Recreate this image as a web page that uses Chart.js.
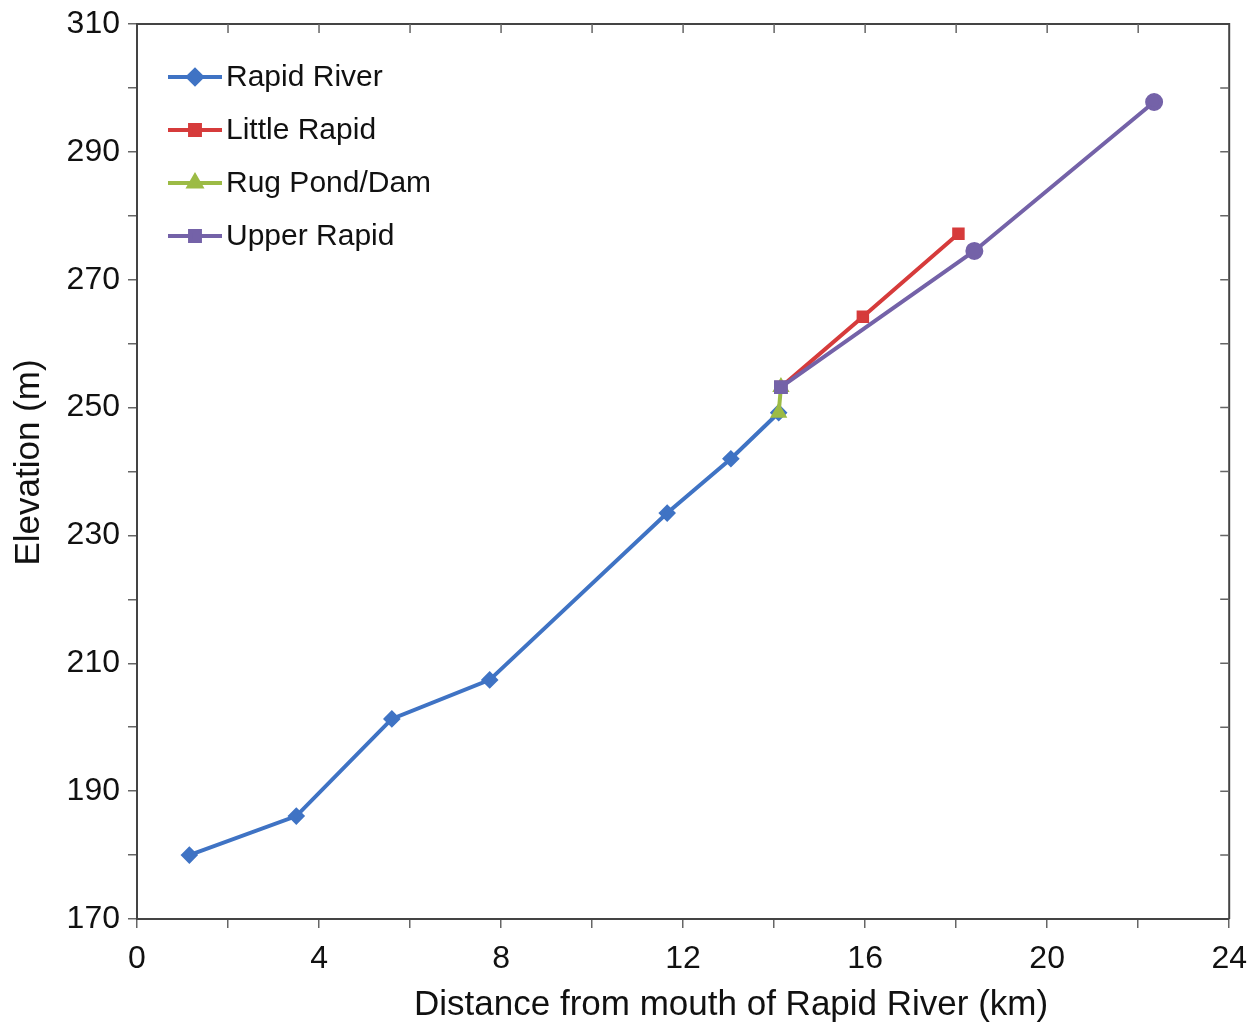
<!DOCTYPE html>
<html>
<head>
<meta charset="utf-8">
<title>Rapid River profile</title>
<script src="https://cdn.jsdelivr.net/npm/chart.js@4/dist/chart.umd.min.js"></script>
<style>
  html, body { margin: 0; padding: 0; background: #fff; }
  #wrap { width: 1259px; height: 1029px; position: relative; }
</style>
</head>
<body>
<div id="wrap"><canvas id="profile"></canvas></div>
<script>
// distance from mouth (km) and elevation (m)
const rapidRiverX = [1.15, 3.5, 5.6, 7.75, 11.65, 13.05, 14.1];
const rapidRiverY = [180, 186.1, 201.3, 207.4, 233.5, 242.0, 249.2];

const littleRapidX = [14.15, 15.95, 18.05];
const littleRapidY = [253.2, 264.2, 277.2];

const rugPondX = [14.1, 14.15];
const rugPondY = [249.2, 253.2];

const upperRapidX = [14.15, 18.4, 22.35];
const upperRapidY = [253.2, 274.5, 297.8];

const xTicks = [0, 4, 8, 12, 16, 20, 24];
const yTicks = [170, 190, 210, 230, 250, 270, 290, 310];

const xTitle = 'Distance from mouth of Rapid River (km)';
const yTitle = 'Elevation (m)';

const FONT = '"Liberation Sans", Arial, sans-serif';

function toPoints(xs, ys) {
    return xs.map((x, i) => ({ x: x, y: ys[i] }));
}

// frame on top/right with inward ticks, like the original figure
const framePlugin = {
    id: 'frame',
    beforeDatasetsDraw(chart) {
        const ctx = chart.ctx;
        const a = chart.chartArea;
        const xs = chart.scales.x;
        const ys = chart.scales.y;
        ctx.save();
        ctx.strokeStyle = '#444';
        ctx.lineWidth = 2;
        ctx.beginPath();
        ctx.moveTo(a.left, a.top);
        ctx.lineTo(a.right, a.top);
        ctx.lineTo(a.right, a.bottom);
        ctx.stroke();
        ctx.strokeStyle = '#666';
        ctx.lineWidth = 1.5;
        ctx.beginPath();
        for (let v = 2; v < 24; v += 2) {
            const px = xs.getPixelForValue(v);
            ctx.moveTo(px, a.top);
            ctx.lineTo(px, a.top + 9);
        }
        for (let v = 180; v < 310; v += 10) {
            const py = ys.getPixelForValue(v);
            ctx.moveTo(a.right, py);
            ctx.lineTo(a.right - 9, py);
        }
        ctx.stroke();
        ctx.restore();
    }
};

// axis titles: the original sits them a bit off-centre
const titlesPlugin = {
    id: 'titles',
    afterDraw(chart) {
        const ctx = chart.ctx;
        const a = chart.chartArea;
        ctx.save();
        ctx.fillStyle = '#111';
        ctx.font = '35px ' + FONT;
        ctx.textAlign = 'center';
        ctx.textBaseline = 'middle';
        ctx.fillText(xTitle, (a.left + a.right) / 2 + 48, 1005);
        ctx.translate(29, (a.top + a.bottom) / 2 - 9);
        ctx.rotate(-Math.PI / 2);
        ctx.fillText(yTitle, 0, 0);
        ctx.restore();
    }
};

// legend drawn inside the plot, line + marker like the original
const innerLegend = {
    id: 'innerLegend',
    afterDraw(chart) {
        const ctx = chart.ctx;
        const a = chart.chartArea;
        ctx.save();
        chart.data.datasets.forEach((ds, i) => {
            const y = a.top + 53 + i * 53;
            const x0 = a.left + 31;
            const x1 = x0 + 54;
            ctx.strokeStyle = ds.borderColor;
            ctx.lineWidth = 4;
            ctx.beginPath();
            ctx.moveTo(x0, y);
            ctx.lineTo(x1, y);
            ctx.stroke();
            ctx.fillStyle = ds.borderColor;
            Chart.helpers.drawPoint(ctx, {
                pointStyle: ds.legendStyle,
                radius: 7,
                rotation: 0,
                borderWidth: 1
            }, (x0 + x1) / 2, y);
            ctx.fillStyle = '#111';
            ctx.font = '30px ' + FONT;
            ctx.textAlign = 'left';
            ctx.textBaseline = 'middle';
            ctx.fillText(ds.label, x1 + 4, y + 1);
        });
        ctx.restore();
    }
};

const blue = '#3f73c4';
const red = '#d63b3b';
const green = '#9cbb45';
const purple = '#7462a8';

new Chart(document.getElementById('profile'), {
    type: 'line',
    data: {
        datasets: [
            {
                label: 'Rapid River',
                data: toPoints(rapidRiverX, rapidRiverY),
                borderColor: blue,
                backgroundColor: blue,
                borderWidth: 4,
                pointStyle: 'rectRot',
                pointRadius: 6,
                legendStyle: 'rectRot',
                order: 3
            },
            {
                label: 'Little Rapid',
                data: toPoints(littleRapidX, littleRapidY),
                borderColor: red,
                backgroundColor: red,
                borderWidth: 4,
                pointStyle: 'rect',
                pointRadius: 6,
                legendStyle: 'rect',
                order: 1
            },
            {
                label: 'Rug Pond/Dam',
                data: toPoints(rugPondX, rugPondY),
                borderColor: green,
                backgroundColor: green,
                borderWidth: 4,
                pointStyle: 'triangle',
                pointRadius: 6,
                legendStyle: 'triangle',
                order: 2
            },
            {
                label: 'Upper Rapid',
                data: toPoints(upperRapidX, upperRapidY),
                borderColor: purple,
                backgroundColor: purple,
                borderWidth: 4,
                pointStyle: ['rect', 'circle', 'circle'],
                pointRadius: 7,
                legendStyle: 'rect',
                order: 0
            }
        ]
    },
    options: {
        responsive: true,
        maintainAspectRatio: false,
        animation: false,
        layout: { padding: { left: 0, top: 24, right: 29, bottom: 0 } },
        plugins: {
            legend: { display: false },
            tooltip: { enabled: false }
        },
        elements: { line: { tension: 0 } },
        scales: {
            x: {
                type: 'linear',
                min: 0,
                max: 24,
                afterFit: s => { s.height = 110; },
                border: { color: '#444', width: 2 },
                grid: { drawOnChartArea: false, drawTicks: true, tickLength: 9, color: '#666', lineWidth: 1.5 },
                ticks: {
                    stepSize: 2,
                    autoSkip: false,
                    maxRotation: 0,
                    padding: 12,
                    color: '#111',
                    font: { family: FONT, size: 32 },
                    callback: v => xTicks.includes(v) ? String(v) : ''
                }
            },
            y: {
                type: 'linear',
                min: 170,
                max: 310,
                afterFit: s => { s.width = 137; },
                border: { color: '#444', width: 2 },
                grid: { drawOnChartArea: false, drawTicks: true, tickLength: 9, color: '#666', lineWidth: 1.5 },
                ticks: {
                    stepSize: 10,
                    autoSkip: false,
                    padding: 8,
                    color: '#111',
                    font: { family: FONT, size: 32, lineHeight: 1 },
                    callback: v => yTicks.includes(v) ? String(v) : ''
                }
            }
        }
    },
    plugins: [framePlugin, titlesPlugin, innerLegend]
});
</script>
</body>
</html>
